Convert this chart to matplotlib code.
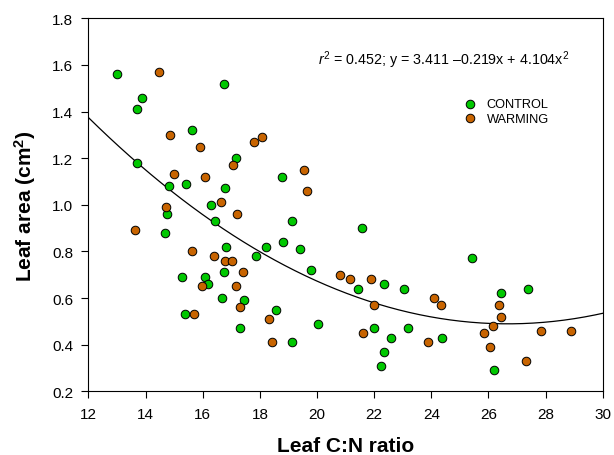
import numpy as np
import matplotlib
matplotlib.use("Agg")
import matplotlib.pyplot as plt

plt.rcParams["font.family"] = ["Liberation Sans", "DejaVu Sans"]
plt.rcParams["mathtext.fontset"] = "custom"
plt.rcParams["mathtext.rm"] = "Liberation Sans"
plt.rcParams["mathtext.it"] = "Liberation Sans:italic"
plt.rcParams["mathtext.bf"] = "Liberation Sans:bold"

# CONTROL points (Leaf C:N ratio, leaf area)
control_cn = [13.01, 16.75, 13.87, 13.71, 15.62, 17.16, 13.70, 15.41, 14.83, 16.79,
              16.28, 14.76, 16.42, 14.69, 16.81, 17.88, 15.28, 16.07, 16.75, 16.17,
              16.68, 17.46, 15.37, 17.30, 18.21, 18.82, 19.42, 19.79, 19.14, 18.79,
              21.58, 21.44, 22.33, 23.05, 22.01, 22.58, 22.36, 22.24, 23.18, 20.04,
              19.14, 18.56, 25.41, 24.37, 26.44, 26.18, 27.40]
control_area = [1.56, 1.52, 1.46, 1.41, 1.32, 1.20, 1.18, 1.09, 1.08, 1.07,
                1.00, 0.96, 0.93, 0.88, 0.82, 0.78, 0.69, 0.69, 0.71, 0.66,
                0.60, 0.59, 0.53, 0.47, 0.82, 0.84, 0.81, 0.72, 0.93, 1.12,
                0.90, 0.64, 0.66, 0.64, 0.47, 0.43, 0.37, 0.31, 0.47, 0.49,
                0.41, 0.55, 0.77, 0.43, 0.62, 0.29, 0.64]

# WARMING points
warming_cn = [14.46, 14.84, 15.91, 17.79, 18.07, 17.05, 14.99, 16.08, 14.71, 16.64,
              17.19, 13.63, 15.62, 16.41, 16.77, 17.02, 17.41, 15.99, 17.17, 17.29,
              15.69, 18.32, 18.43, 19.54, 19.65, 20.81, 21.14, 21.88, 21.98, 21.60,
              24.09, 24.35, 23.90, 26.38, 26.44, 26.17, 25.85, 26.07, 27.32, 27.84,
              28.88]
warming_area = [1.57, 1.30, 1.25, 1.27, 1.29, 1.17, 1.13, 1.12, 0.99, 1.01,
                0.96, 0.89, 0.80, 0.78, 0.76, 0.76, 0.71, 0.65, 0.65, 0.56,
                0.53, 0.51, 0.41, 1.15, 1.06, 0.70, 0.68, 0.68, 0.57, 0.45,
                0.60, 0.57, 0.41, 0.57, 0.52, 0.48, 0.45, 0.39, 0.33, 0.46,
                0.46]

# quadratic fit coefficients (x^2 term is 4.104e-3)
b0, b1, b2 = 3.411, -0.219, 4.104e-3

fig = plt.figure(figsize=(6.14, 4.56), dpi=100)
ax = fig.add_axes([0.1441, 0.1397, 0.8375, 0.818])

xs = np.linspace(12, 30, 200)
ax.plot(xs, b0 + b1 * xs + b2 * xs ** 2, color="black", linewidth=0.9, zorder=1)

ax.scatter(control_cn, control_area, s=38, color="#00C800", edgecolors="black",
           linewidths=0.7, label="CONTROL", zorder=3)
ax.scatter(warming_cn, warming_area, s=38, color="#C86400", edgecolors="black",
           linewidths=0.7, label="WARMING", zorder=3)

ax.set_xlim(12, 30)
ax.set_ylim(0.2, 1.8)
ax.set_xticks(np.arange(12, 31, 2))
ax.set_yticks(np.arange(0.2, 1.81, 0.2))
ax.set_yticklabels([f"{v:.1f}" for v in np.arange(0.2, 1.81, 0.2)])
ax.tick_params(direction="out", length=5, width=0.8, labelsize=11, pad=6)

ax.set_xlabel("Leaf C:N ratio", fontsize=15, fontweight="bold", labelpad=11)
ax.set_ylabel("Leaf area (cm$^\\mathbf{2}$)", fontsize=15, fontweight="bold", labelpad=10)

ax.text(0.446, 0.891, "$r^2$ = 0.452; y = 3.411 \u20130.219x + 4.104x$^\\mathrm{2}$",
        transform=ax.transAxes, fontsize=10.3, va="center", ha="left")

ax.legend(loc="upper left", bbox_to_anchor=(0.70, 0.81), frameon=False, fontsize=9.2,
          handletextpad=0.3, labelspacing=0.2, borderpad=0.2, scatterpoints=1)

plt.savefig("out.png", dpi=100)
